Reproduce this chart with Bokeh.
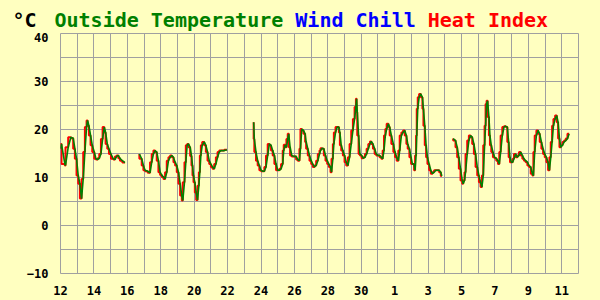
from bokeh.plotting import figure
from bokeh.models import FixedTicker, Range1d
from bokeh.layouts import column
from bokeh.core.properties import value
from bokeh.embed import file_html
from bokeh.resources import INLINE

# Days are offsets from Dec 12 00:00; temperatures in degrees C
seg1_day = [0.0, 0.06, 0.26, 0.30, 0.46, 0.62, 0.76, 0.86, 0.96, 1.06, 1.16, 1.26, 1.36, 1.46, 1.56, 1.62,
            1.70, 1.80, 1.90, 2.02, 2.12, 2.22, 2.32, 2.42, 2.52, 2.62, 2.70, 2.80, 2.90, 3.02, 3.16,
            3.26, 3.36, 3.46, 3.56, 3.70, 3.86]
seg1_temp = [16.0, 17.0, 12.8, 12.5, 16.3, 18.4, 18.2, 16.0, 13.9, 10.4, 8.7, 5.6, 9.7, 15.3, 20.5, 21.9,
             20.8, 18.75, 16.7, 15.3, 13.9, 13.75, 14.0, 14.9, 18.0, 20.5, 19.4, 17.0, 16.0, 14.9, 13.9,
             13.75, 14.4, 14.6, 14.0, 13.5, 13.1]

seg2_day = [4.72, 4.86, 4.96, 5.06, 5.22, 5.36, 5.46, 5.56, 5.66, 5.76, 5.86, 5.96, 6.06, 6.16, 6.26,
            6.36, 6.46, 6.56, 6.66, 6.76, 6.86, 6.96, 7.06, 7.16, 7.26, 7.32, 7.42, 7.50, 7.58, 7.66,
            7.76, 7.84, 7.90, 7.96, 8.04, 8.12, 8.20, 8.28, 8.34, 8.40, 8.48, 8.60, 8.70, 8.80, 8.90,
            9.00, 9.10, 9.20, 9.30, 9.40, 9.50, 9.60, 9.80, 9.96]
seg2_temp = [14.9, 13.9, 12.5, 11.5, 11.3, 11.0, 13.2, 14.9, 15.6, 15.3, 13.5, 11.1, 10.5, 10.1, 9.7,
             11.1, 13.5, 14.2, 14.6, 14.2, 13.2, 12.5, 11.1, 8.7, 6.25, 5.2, 9.0, 13.2, 16.7, 17.0,
             16.3, 14.5, 12.5, 10.4, 9.0, 6.9, 5.3, 8.3, 11.1, 14.6, 16.7, 17.4, 16.7, 15.3, 13.5,
             12.8, 12.2, 11.8, 12.8, 14.2, 15.3, 15.6, 15.6, 15.8]

seg3_day = [11.56, 11.60, 11.70, 11.80, 11.90, 12.00, 12.10, 12.20, 12.30, 12.40, 12.50, 12.60, 12.70,
            12.80, 12.90, 13.00, 13.10, 13.20, 13.30, 13.36, 13.44, 13.52, 13.60, 13.66, 13.74, 13.84,
            13.96, 14.10, 14.20, 14.30, 14.36, 14.44, 14.54, 14.64, 14.70, 14.80, 14.90, 15.00, 15.10,
            15.20, 15.30, 15.40, 15.50, 15.56, 15.66, 15.76, 15.86, 15.96, 16.06, 16.16, 16.22, 16.30,
            16.36, 16.46, 16.56, 16.66, 16.72, 16.80, 16.90, 17.00, 17.10, 17.20, 17.30, 17.40, 17.50,
            17.60, 17.68, 17.72, 17.76, 17.84, 17.92, 18.02, 18.12, 18.22, 18.32, 18.42, 18.52, 18.60,
            18.70, 18.80, 18.90, 19.00, 19.10, 19.20, 19.28, 19.36, 19.44, 19.52, 19.62, 19.70, 19.80,
            19.92, 20.02, 20.12, 20.22, 20.30, 20.40, 20.50, 20.60, 20.70, 20.78, 20.88, 20.98, 21.06,
            21.16, 21.22, 21.28, 21.32, 21.38, 21.46, 21.56, 21.66, 21.72, 21.80, 21.88, 21.96, 22.06,
            22.16, 22.26, 22.36, 22.46, 22.66, 22.76, 22.82]
seg3_temp = [21.5, 18.0, 15.3, 13.5, 12.5, 11.5, 11.3, 11.3, 12.2, 14.6, 17.0, 16.7, 15.6,
             14.6, 12.8, 11.5, 11.5, 11.8, 12.8, 15.6, 16.8, 16.3, 18.0, 19.1, 16.3, 14.6,
             14.4, 14.4, 13.75, 13.5, 16.0, 20.1, 19.8, 19.1, 17.4, 16.0, 14.6, 13.5, 12.8,
             12.2, 12.5, 13.5, 14.9, 15.6, 16.1, 16.0, 14.6, 13.5, 12.8, 12.2, 11.1, 13.9,
             17.0, 19.4, 20.5, 20.5, 19.4, 16.7, 15.6, 14.6, 13.2, 12.5, 14.2, 17.0, 19.8,
             22.2, 24.7, 26.4, 23.6, 18.75, 14.9, 14.6, 14.0, 14.2, 14.9, 16.0, 17.0, 17.5,
             17.0, 16.0, 14.9, 14.6, 14.6, 14.2, 13.9, 15.6, 18.75, 20.1, 21.2, 20.5, 18.75,
             17.0, 15.3, 14.2, 13.5, 15.6, 18.75, 19.4, 19.8, 18.75, 17.0, 16.0, 14.2, 12.8,
             12.8, 11.5, 14.6, 18.75, 24.3, 26.7, 27.4, 26.7, 24.3, 20.8, 16.7, 14.2, 12.8,
             11.5, 10.8, 11.1, 11.5, 11.5, 11.1, 10.3]

seg4_day = [23.50, 23.64, 23.74, 23.84, 23.94, 24.04, 24.10, 24.18, 24.24, 24.34, 24.44, 24.54, 24.64,
            24.74, 24.84, 24.94, 25.04, 25.14, 25.22, 25.30, 25.38, 25.44, 25.50, 25.56, 25.64, 25.70,
            25.78, 25.88, 25.98, 26.08, 26.18, 26.26, 26.34, 26.44, 26.54, 26.64, 26.74, 26.82, 26.90,
            26.98, 27.06, 27.14, 27.24, 27.34, 27.44, 27.54, 27.64, 27.74, 27.84, 27.94, 28.04, 28.14,
            28.24, 28.30, 28.38, 28.48, 28.58, 28.68, 28.78, 28.88, 28.98, 29.08, 29.18, 29.26, 29.34,
            29.42, 29.50, 29.60, 29.70, 29.78, 29.86, 29.94, 30.04, 30.14, 30.24, 30.34, 30.44]
seg4_temp = [18.1, 17.7, 16.3, 14.2, 11.8, 9.4, 8.7, 9.4, 11.1, 14.9, 17.7, 18.75, 18.4,
             17.0, 14.9, 12.2, 10.4, 9.0, 8.0, 10.4, 16.7, 20.8, 25.3, 26.0, 22.6, 18.75,
             16.7, 15.3, 14.2, 14.0, 13.5, 12.8, 15.3, 18.75, 20.5, 20.7, 20.5, 17.4, 14.2,
             13.2, 13.2, 13.9, 14.9, 14.2, 14.6, 15.3, 14.6, 13.9, 13.5, 13.2, 12.5, 12.2,
             10.8, 10.4, 15.3, 18.75, 19.8, 19.1, 17.4, 16.0, 14.9, 14.2, 13.2, 11.5, 14.2,
             17.4, 20.8, 22.2, 22.9, 21.5, 18.1, 16.3, 16.7, 17.4, 17.7, 18.1, 19.1]

segments = [(seg1_day, seg1_temp), (seg2_day, seg2_temp), (seg3_day, seg3_temp), (seg4_day, seg4_temp)]

tick_days = [0, 2, 4, 6, 8, 10, 12, 14, 16, 18, 20, 22, 24, 26, 28, 30]
tick_labels = ["12", "14", "16", "18", "20", "22", "24", "26", "28", "30", "1", "3", "5", "7", "9", "11"]
y_ticks = [-10, 0, 10, 20, 30, 40]

title_texts = ["°C", "Outside Temperature", "Wind Chill", "Heat Index"]
title_colors = ["black", "#008000", "#0000FF", "#FF0000"]

BG = "#FFFFC0"
GRID = "#A0A0A0"
FONT = "DejaVu Sans Mono"

# --- title strip (pixel coordinates, no axes so the frame fills the strip) ---
TOP_H = 32
t = figure(width=600, height=TOP_H, output_backend="svg", toolbar_location=None,
           x_range=Range1d(0, 600), y_range=Range1d(TOP_H, 0),
           x_axis_location=None, y_axis_location=None,
           min_border_left=0, min_border_right=0, min_border_top=0, min_border_bottom=0)
t.frame_align = False
t.grid.visible = False
t.outline_line_color = None
t.background_fill_color = BG
t.border_fill_color = BG
t.text(x=[12, 54, 294.8, 427.2], y=[19.5] * 4, text=title_texts, text_color=title_colors,
       text_font=value(FONT), text_font_style="bold", text_font_size="20px",
       text_baseline="alphabetic", text_align="left")

# --- main chart ---
p = figure(width=600, height=300 - TOP_H, output_backend="svg", toolbar_location=None,
           x_range=(0, 31), y_range=(-10, 40),
           min_border_left=60, min_border_right=22, min_border_top=33 - TOP_H, min_border_bottom=27)
p.frame_align = False
p.background_fill_color = BG
p.border_fill_color = BG
p.outline_line_color = GRID

p.xaxis.ticker = FixedTicker(ticks=tick_days, minor_ticks=list(range(0, 32)))
p.xaxis.major_label_overrides = {d: l for d, l in zip(tick_days, tick_labels)}
p.yaxis.ticker = FixedTicker(ticks=y_ticks, minor_ticks=list(range(-10, 45, 5)))

for ax in (p.xaxis[0], p.yaxis[0]):
    ax.axis_line_color = None
    ax.major_tick_line_color = None
    ax.minor_tick_line_color = None
    ax.major_label_text_font = FONT
    ax.major_label_text_font_style = "bold"
    ax.major_label_text_font_size = "12px"
    ax.major_label_text_color = "black"
    ax.major_label_standoff = 6

for g in (p.xgrid[0], p.ygrid[0]):
    g.grid_line_color = GRID
    g.grid_line_width = 1
    g.minor_grid_line_color = GRID
    g.minor_grid_line_width = 1

for days, temps in segments:
    p.step(days, temps, mode="before", line_color="#FF0000", line_width=2)
for days, temps in segments:
    p.line(days, temps, line_color="#008000", line_width=1.6)

layout = column(t, p, spacing=0)
html = file_html(layout, INLINE)
html = html.replace("<head>", "<head><style>html, body { margin: 0; background: #FFFFC0; }</style>", 1)
open("out.html", "w").write(html)
